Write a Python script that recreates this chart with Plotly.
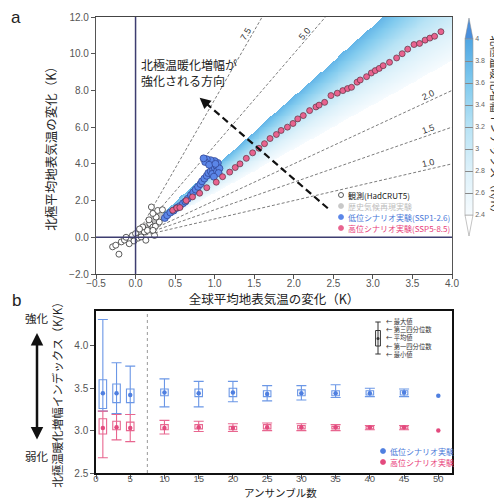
import numpy as np
import plotly.graph_objects as go

# ---------------- Panel a data ----------------
OBS_X = [-0.29, -0.25, -0.21, -0.18, -0.14, -0.12, -0.08, -0.04, 0.00, 0.03, 0.07, 0.11, 0.13,
         0.15, 0.09, 0.18, 0.22, 0.24, 0.26, 0.20, 0.22, 0.28, 0.30, 0.34, 0.05, -0.02, 0.17, 0.25, 0.22]
OBS_Y = [-0.52, -0.43, -0.92, -0.25, -0.15, 0.00, -0.35, 0.10, 0.20, -0.05, 0.02, 0.30, -0.16,
         0.38, 0.56, 0.75, 0.56, 0.10, 1.10, 1.65, 1.30, 1.46, 0.83, 1.50, 0.45, -0.20, 0.95, 0.60, 0.38]

HIST_X = [0.02, 0.06, 0.10, 0.14, 0.18, 0.22, 0.26, 0.30, 0.12, 0.20, 0.28, 0.16, 0.08, -0.03, 0.32]
HIST_Y = [0.05, 0.25, 0.40, 0.55, 0.70, 0.85, 0.95, 1.05, 0.65, 1.00, 0.80, 0.35, 0.15, -0.10, 1.20]

LOW_X = [0.37, 0.40, 0.44, 0.48, 0.52, 0.56, 0.60, 0.63, 0.66, 0.70, 0.73, 0.76, 0.79, 0.82, 0.84,
         0.87, 0.90, 0.92, 0.95, 0.98, 1.00, 1.02, 1.04, 1.00, 0.95, 0.90, 0.88, 0.93, 0.97, 1.03,
         1.06, 1.05, 0.86, 0.99, 1.01]
LOW_Y = [1.05, 1.20, 1.35, 1.45, 1.60, 1.70, 1.85, 1.95, 2.10, 2.30, 2.45, 2.60, 2.75, 2.90, 3.05,
         3.20, 3.35, 3.50, 3.60, 3.70, 3.80, 3.90, 4.05, 4.15, 4.20, 4.25, 4.10, 3.95, 3.45, 3.60,
         3.75, 3.50, 4.30, 3.30, 4.00]

HIGH_X = [0.47, 0.52, 0.56, 0.64, 0.72, 0.81, 0.90, 1.02, 1.10, 1.19, 1.26, 1.32, 1.40, 1.48, 1.56,
          1.63, 1.70, 1.78, 1.84, 1.92, 1.99, 2.05, 2.12, 2.20, 2.28, 2.32, 2.39, 2.47, 2.55, 2.62,
          2.68, 2.73, 2.80, 2.84, 2.92, 2.98, 3.03, 3.08, 3.13, 3.21, 3.30, 3.37, 3.44, 3.52, 3.59,
          3.66, 3.72, 3.78, 3.86]
HIGH_Y = [1.47, 1.60, 1.62, 2.00, 2.20, 2.40, 2.70, 3.00, 3.30, 3.55, 3.80, 4.00, 4.30, 4.60, 4.85,
          5.10, 5.38, 5.60, 5.82, 6.00, 6.20, 6.45, 6.63, 6.90, 7.10, 7.20, 7.35, 7.72, 7.85, 7.99,
          8.10, 8.17, 8.45, 8.57, 8.75, 8.95, 9.08, 9.20, 9.35, 9.53, 9.77, 10.00, 10.25, 10.50, 10.56,
          10.74, 10.85, 10.95, 11.20]

REF_SLOPES = [1.0, 1.5, 2.0, 5.0, 7.5]
REF_LABELS = ["1.0", "1.5", "2.0", "5.0", "7.5"]

WEDGE_MIN, WEDGE_MAX = 2.4, 3.83
CB_TICKS = [2.4, 2.6, 2.8, 3.0, 3.2, 3.4, 3.6, 3.8, 4.0]
CB_TICKTEXT = ["2.4", "2.6", "2.8", "3", "3.2", "3.4", "3.6", "3.8", "4"]
CB_TITLE = "北極温暖化増幅インデックス（K/K）"

X_TICKS_A = [-0.5, 0.0, 0.5, 1.0, 1.5, 2.0, 2.5, 3.0, 3.5, 4.0]
Y_TICKS_A = [-2.0, 0.0, 2.0, 4.0, 6.0, 8.0, 10.0, 12.0]

LEGEND_A = ["観測(HadCRUT5)", "歴史気候再現実験", "低位シナリオ実験(SSP1-2.6)", "高位シナリオ実験(SSP5-8.5)"]

# ---------------- Panel b data ----------------
N = [1, 3, 5, 10, 15, 20, 25, 30, 35, 40, 45, 50]
LOW_MAX = [4.31, 3.80, 3.76, 3.61, 3.58, 3.58, 3.53, 3.53, 3.54, 3.50, 3.49, None]
LOW_Q3 = [3.60, 3.55, 3.49, 3.49, 3.49, 3.50, 3.47, 3.48, 3.47, 3.47, 3.47, None]
LOW_MEAN = [3.44, 3.44, 3.42, 3.45, 3.44, 3.45, 3.43, 3.44, 3.44, 3.44, 3.45, 3.41]
LOW_Q1 = [3.26, 3.33, 3.33, 3.41, 3.40, 3.40, 3.40, 3.41, 3.41, 3.42, 3.42, None]
LOW_MIN = [3.23, 3.20, 3.19, 3.28, 3.28, 3.34, 3.35, 3.36, 3.39, 3.40, 3.40, None]

HIGH_MAX = [3.23, 3.19, 3.19, 3.12, 3.11, 3.08, 3.09, 3.08, 3.07, 3.06, 3.06, None]
HIGH_Q3 = [3.14, 3.11, 3.10, 3.07, 3.07, 3.05, 3.07, 3.06, 3.05, 3.05, 3.05, None]
HIGH_MEAN = [3.03, 3.04, 3.03, 3.03, 3.04, 3.03, 3.04, 3.04, 3.04, 3.04, 3.04, 3.00]
HIGH_Q1 = [2.96, 3.01, 3.00, 3.01, 3.02, 3.01, 3.02, 3.02, 3.02, 3.02, 3.02, None]
HIGH_MIN = [2.68, 2.89, 2.87, 2.96, 2.99, 2.99, 3.00, 3.00, 3.00, 3.01, 3.01, None]

X_TICKS_B = [0, 5, 10, 15, 20, 25, 30, 35, 40, 45, 50]
Y_TICKS_B = [2.5, 3.0, 3.5, 4.0]
BOX_LEGEND = ["← 最大値", "← 第三四分位数", "← 平均値", "← 第一四分位数", "← 最小値"]
LEGEND_B = ["低位シナリオ実験", "高位シナリオ実験"]

# ---------------- styling / layout ----------------
OFF = 8                      # page offset of the plot div (body margin)
W, H = 502 - OFF, 500 - OFF
ML, MT = 96 - OFF, 17 - OFF
MR = W - (452 - OFF)
MB = H - (473 - OFF)
PW, PH = W - ML - MR, H - MT - MB
JP = "Noto Sans CJK JP"
LAT = "Liberation Sans, Arial, sans-serif"
BLUE = "#6b97e6"
BLUE_DOT = "#4f7fe0"
PINK = "#e8668f"
PINK_DOT = "#e34a7e"
NAVY = "#3d3d70"

XR_A = [-0.5, 4.0]
YR_A = [-2.0, 12.0]
XR_B = [0, 52]
YR_B = [2.5, 4.41]


def px(xp, yp):
    """page pixel -> paper coords"""
    return (xp - OFF - ML) / PW, (H - MB - (yp - OFF)) / PH


DOM_A = [px(0, 274)[1], 1.0]
DOM_B = [0.0, px(0, 311)[1]]

fig = go.Figure()

# wedge of AA index (colour = y/x)
gx = np.arange(0.0, 4.0001, 0.0125)
gy = np.arange(0.0, 12.0001, 0.05)
with np.errstate(divide="ignore", invalid="ignore"):
    ratio = gy[:, None] / np.where(gx == 0, np.nan, gx)[None, :]
zz = np.where((ratio >= WEDGE_MIN) & (ratio <= WEDGE_MAX), ratio, np.nan)

CSCALE = [[0.0, "#f6fbfe"], [0.25, "#ddf1fa"], [0.5, "#b8e3f5"], [0.75, "#80caee"], [1.0, "#4fa6e3"]]
cb_x, _ = px(465, 0)
_, cb_top = px(0, 39)
_, cb_bot = px(0, 215)
fig.add_trace(go.Heatmap(
    x=gx, y=gy, z=zz, colorscale=CSCALE, zmin=2.4, zmax=4.0, hoverinfo="skip",
    xaxis="x", yaxis="y",
    colorbar=dict(x=cb_x, xanchor="left", y=(cb_top + cb_bot) / 2, yanchor="middle",
                  thickness=8, len=176, lenmode="pixels", xpad=0, ypad=0,
                  tickvals=CB_TICKS, ticktext=CB_TICKTEXT, ticks="inside", ticklen=8,
                  tickcolor="#888", tickwidth=0.6,
                  tickfont=dict(family=LAT, size=7, color="#666"),
                  outlinewidth=0.6, outlinecolor="#999")))

# reference slope lines
for s in REF_SLOPES:
    xe = min(XR_A[1], YR_A[1] / s)
    fig.add_trace(go.Scatter(x=[0, xe], y=[0, s * xe], mode="lines", xaxis="x", yaxis="y",
                             line=dict(color="#444", width=0.7, dash="3px,2px"),
                             hoverinfo="skip", showlegend=False))

fig.add_trace(go.Scatter(x=HIST_X, y=HIST_Y, mode="markers", xaxis="x", yaxis="y", showlegend=False,
                         marker=dict(size=5, color="#c8c8c8", line=dict(color="#aaa", width=0.4))))
fig.add_trace(go.Scatter(x=OBS_X, y=OBS_Y, mode="markers", xaxis="x", yaxis="y", showlegend=False,
                         marker=dict(size=6, color="white", line=dict(color="#333", width=0.8))))
fig.add_trace(go.Scatter(x=LOW_X, y=LOW_Y, mode="markers", xaxis="x", yaxis="y", showlegend=False,
                         marker=dict(size=7, color="#5b86e8", line=dict(color="#2c3f8c", width=0.7))))
fig.add_trace(go.Scatter(x=HIGH_X, y=HIGH_Y, mode="markers", xaxis="x", yaxis="y", showlegend=False,
                         marker=dict(size=6, color="#e8638f", line=dict(color="#5a3040", width=0.7))))


# ---------------- Panel b traces ----------------
def diff(a, b):
    return [None if (u is None or v is None) else round(u - v, 4) for u, v in zip(a, b)]


for q1, q3, mn, mx, mean, col, dot in [
    (LOW_Q1, LOW_Q3, LOW_MIN, LOW_MAX, LOW_MEAN, BLUE, BLUE_DOT),
    (HIGH_Q1, HIGH_Q3, HIGH_MIN, HIGH_MAX, HIGH_MEAN, PINK, PINK_DOT),
]:
    fig.add_trace(go.Bar(x=N, y=diff(q3, q1), base=q1, width=1.1, xaxis="x2", yaxis="y2",
                         marker=dict(color="rgba(0,0,0,0)", line=dict(color=col, width=1.1)),
                         showlegend=False, hoverinfo="skip"))
    keep = [i for i in range(len(N)) if mx[i] is not None]
    up = diff(mx, mean)
    dn = diff(mean, mn)
    fig.add_trace(go.Scatter(x=[N[i] for i in keep], y=[mean[i] for i in keep], mode="markers",
                             xaxis="x2", yaxis="y2", showlegend=False, hoverinfo="skip",
                             marker=dict(size=1, color="rgba(0,0,0,0)"),
                             error_y=dict(type="data", symmetric=False, array=[up[i] for i in keep],
                                          arrayminus=[dn[i] for i in keep], color=col,
                                          thickness=1.1, width=5)))
    fig.add_trace(go.Scatter(x=N, y=mean, mode="markers", xaxis="x2", yaxis="y2", showlegend=False,
                             marker=dict(size=4.5, color=dot)))

# ---------------- shapes ----------------
shapes = []
shapes.append(dict(type="line", xref="x", yref="y domain", x0=0, x1=0, y0=0, y1=1,
                   line=dict(color=NAVY, width=1.5)))
shapes.append(dict(type="line", xref="x domain", yref="y", x0=0, x1=1, y0=0, y1=0,
                   line=dict(color=NAVY, width=1.5)))
ARROW_TAIL = (2.43, 1.58)
ARROW_HEAD = (0.81, 7.6)
shapes.append(dict(type="line", xref="x", yref="y", x0=ARROW_TAIL[0], y0=ARROW_TAIL[1],
                   x1=ARROW_HEAD[0] + 0.04 * (ARROW_TAIL[0] - ARROW_HEAD[0]),
                   y1=ARROW_HEAD[1] + 0.04 * (ARROW_TAIL[1] - ARROW_HEAD[1]),
                   line=dict(color="#111", width=2.2, dash="7px,4px")))
# colorbar extension triangles
l, _ = px(465, 0)
r, _ = px(473, 0)
m, _ = px(469, 0)
_, ytip = px(0, 18)
_, ybtip = px(0, 236)
shapes.append(dict(type="path", xref="paper", yref="paper",
                   path=f"M{l},{cb_top} L{r},{cb_top} L{m},{ytip} Z",
                   fillcolor="#4a8fdc", line=dict(color="#888", width=0.5)))
shapes.append(dict(type="path", xref="paper", yref="paper",
                   path=f"M{l},{cb_bot} L{r},{cb_bot} L{m},{ybtip} Z",
                   fillcolor="#ffffff", line=dict(color="#888", width=0.5)))
# dotted separator in panel b
shapes.append(dict(type="line", xref="x2", yref="y2 domain", x0=7.5, x1=7.5, y0=0, y1=1,
                   line=dict(color="#999", width=1, dash="dot")))
# box legend glyph (panel b)
gxc, _ = px(378, 0)
gxl, _ = px(375.3, 0)
gxr, _ = px(380.7, 0)
bxl, _ = px(375.6, 0)
bxr, _ = px(380.4, 0)
_, g_top = px(0, 322)
_, g_q3 = px(0, 330.5)
_, g_mean = px(0, 338.5)
_, g_q1 = px(0, 346)
_, g_bot = px(0, 354)
gl = dict(color="#333", width=1)
shapes += [
    dict(type="line", xref="paper", yref="paper", x0=gxc, x1=gxc, y0=g_bot, y1=g_top, line=gl),
    dict(type="line", xref="paper", yref="paper", x0=gxl, x1=gxr, y0=g_top, y1=g_top, line=gl),
    dict(type="line", xref="paper", yref="paper", x0=gxl, x1=gxr, y0=g_bot, y1=g_bot, line=gl),
    dict(type="rect", xref="paper", yref="paper", x0=bxl, x1=bxr, y0=g_q1, y1=g_q3, line=gl,
         fillcolor="white"),
    dict(type="line", xref="paper", yref="paper", x0=gxc, x1=gxc, y0=g_q1, y1=g_q3, line=gl),
    dict(type="circle", xref="paper", yref="paper", xsizemode="pixel", ysizemode="pixel",
         xanchor=gxc, yanchor=g_mean, x0=-1.5, x1=1.5, y0=-1.5, y1=1.5, fillcolor="#333",
         line=dict(width=0)),
]


def legend_dot(xp, yp, fill, edge, r=2.5):
    ax_, ay_ = px(xp, yp)
    return dict(type="circle", xref="paper", yref="paper", xsizemode="pixel", ysizemode="pixel",
                xanchor=ax_, yanchor=ay_, x0=-r, x1=r, y0=-r, y1=r, fillcolor=fill,
                line=dict(color=edge, width=0.8))


LEG_A_Y = [195, 206, 217, 228]
LEG_A_STYLE = [("white", "#333", "#222"), ("#c8c8c8", "#c8c8c8", "#bdbdbd"),
               ("#5b86e8", "#5b86e8", "#4a78d8"), ("#e8638f", "#e8638f", "#e8407a")]
for yy, (f, e, _) in zip(LEG_A_Y, LEG_A_STYLE):
    shapes.append(legend_dot(341, yy, f, e))
LEG_B_Y = [451, 462]
LEG_B_STYLE = [(BLUE_DOT, "#4a78d8"), (PINK_DOT, "#e8407a")]
for yy, (f, _) in zip(LEG_B_Y, LEG_B_STYLE):
    shapes.append(legend_dot(383, yy, f, f))

# ---------------- annotations ----------------
ann = []
pxx = PW / (XR_A[1] - XR_A[0])
pxy = (274 - 17) / (YR_A[1] - YR_A[0])
for s, lab in zip(REF_SLOPES, REF_LABELS):
    th = np.degrees(np.arctan(s * pxy / pxx))
    if s >= 5:
        yl = 11.1
        xl = yl / s
        xs, ys = -7, 0
    else:
        xl = 3.7
        yl = s * xl
        xs, ys = 0, 6
    ann.append(dict(x=xl, y=yl, xref="x", yref="y", text=lab, showarrow=False,
                    textangle=-th, xshift=xs, yshift=ys,
                    font=dict(family=LAT, size=9, color="#333")))

ann.append(dict(x=ARROW_HEAD[0], y=ARROW_HEAD[1], xref="x", yref="y",
                ax=ARROW_HEAD[0] + 0.06 * (ARROW_TAIL[0] - ARROW_HEAD[0]),
                ay=ARROW_HEAD[1] + 0.06 * (ARROW_TAIL[1] - ARROW_HEAD[1]),
                axref="x", ayref="y", text="", showarrow=True, arrowhead=2, arrowsize=1.1,
                arrowwidth=2, arrowcolor="#111"))
ann.append(dict(x=0.04, y=9.0, xref="x", yref="y", text="北極温暖化増幅が<br>強化される方向",
                showarrow=False, xanchor="left", yanchor="middle", align="left",
                font=dict(family=JP, size=12, color="#222")))

# colorbar title
ax_, ay_ = px(495.5, 127)
ann.append(dict(x=ax_, y=ay_, xref="paper", yref="paper", text=CB_TITLE, showarrow=False,
                textangle=90, xanchor="center", yanchor="middle",
                font=dict(family=JP, size=11, color="#333")))
# x title of panel b
ax_, ay_ = px(280, 493)
ann.append(dict(x=ax_, y=ay_, xref="paper", yref="paper", text="アンサンブル数", showarrow=False,
                xanchor="center", yanchor="middle", borderpad=0,
                font=dict(family=JP, size=10.5, color="#222")))

for yy, txt, (_, _, tc) in zip(LEG_A_Y, LEGEND_A, LEG_A_STYLE):
    ax_, ay_ = px(346, yy)
    ann.append(dict(x=ax_, y=ay_, xref="paper", yref="paper", text=txt, showarrow=False,
                    xanchor="left", yanchor="middle", font=dict(family=JP, size=8, color=tc)))
for yy, txt, (_, tc) in zip(LEG_B_Y, LEGEND_B, LEG_B_STYLE):
    ax_, ay_ = px(388, yy)
    ann.append(dict(x=ax_, y=ay_, xref="paper", yref="paper", text=txt, showarrow=False,
                    xanchor="left", yanchor="middle", font=dict(family=JP, size=8, color=tc)))
ax_, ay_ = px(384, 338)
ann.append(dict(x=ax_, y=ay_, xref="paper", yref="paper", text="<br>".join(BOX_LEGEND),
                showarrow=False, xanchor="left", yanchor="middle", align="left",
                font=dict(family=JP, size=6.3, color="#333")))

for t, (xp, yp) in [("a", (16, 18)), ("b", (16, 300))]:
    ax_, ay_ = px(xp, yp)
    ann.append(dict(x=ax_, y=ay_, xref="paper", yref="paper", text=t, showarrow=False,
                    xanchor="center", yanchor="middle", font=dict(family=LAT, size=17, color="#222")))
for t, yp in [("強化", 318), ("弱化", 456)]:
    ax_, ay_ = px(37, yp)
    ann.append(dict(x=ax_, y=ay_, xref="paper", yref="paper", text=t, showarrow=False,
                    xanchor="center", yanchor="middle", font=dict(family=JP, size=11.5, color="#222")))
ax_, ay_ = px(37, 333)
ann.append(dict(x=ax_, y=ay_, xref="paper", yref="paper", ax=0, ay=108, text="", showarrow=True,
                arrowhead=2, arrowside="end+start", arrowsize=1, arrowwidth=2.5, arrowcolor="#111"))

tickfont = dict(family=LAT, size=10, color="#555")
axcommon = dict(showgrid=False, zeroline=False, showline=True, mirror=True, ticks="outside",
                ticklen=4, tickcolor="#555")

fig.update_layout(
    width=W, height=H, margin=dict(l=ML, r=MR, t=MT, b=MB, autoexpand=False),
    paper_bgcolor="white", plot_bgcolor="white", showlegend=False, barmode="overlay",
    xaxis=dict(domain=[0, 1], anchor="y", range=XR_A, tickvals=X_TICKS_A, tickformat=".1f",
               linecolor="#444", linewidth=1.3, ticklabelstandoff=-4, tickfont=tickfont,
               title=dict(text="全球平均地表気温の変化（K）", standoff=0,
                          font=dict(family=JP, size=12.5, color="#222")), **axcommon),
    yaxis=dict(domain=DOM_A, anchor="x", range=YR_A, tickvals=Y_TICKS_A, tickformat=".1f",
               linecolor="#555", linewidth=1.3, tickfont=tickfont,
               title=dict(text="北極平均地表気温の変化（K）", standoff=9,
                          font=dict(family=JP, size=12.5, color="#222")), **axcommon),
    xaxis2=dict(domain=[0, 1], anchor="y2", range=XR_B, tickvals=X_TICKS_B,
                linecolor="#111", linewidth=1.5, ticklabelstandoff=-8,
                tickfont=dict(family=LAT, size=9.5, color="#555"), **axcommon),
    yaxis2=dict(domain=DOM_B, anchor="x2", range=YR_B, tickvals=Y_TICKS_B, tickformat=".1f",
                linecolor="#111", linewidth=1.5, tickfont=tickfont,
                title=dict(text="北極温暖化増幅インデックス（K/K）", standoff=9,
                           font=dict(family=JP, size=11.5, color="#222")), **axcommon),
    shapes=shapes, annotations=ann,
)

fig.write_html("out.html")
